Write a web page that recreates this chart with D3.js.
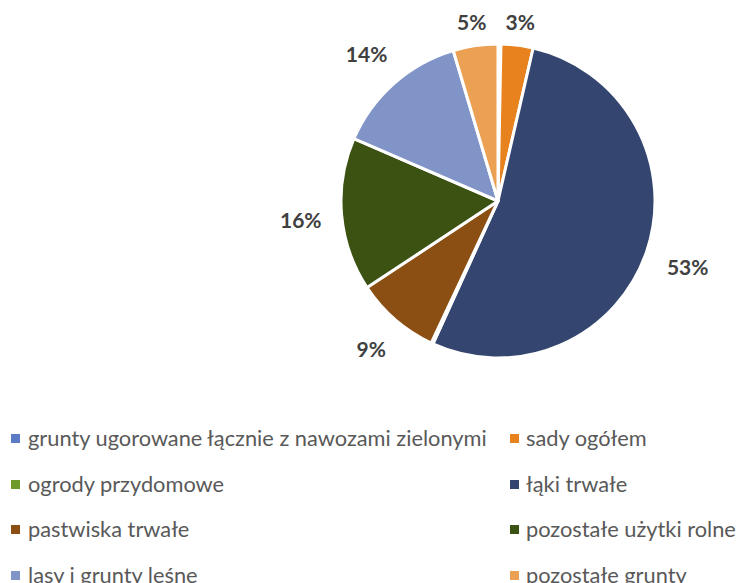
<!DOCTYPE html>
<html>
<head>
<meta charset="utf-8">
<script src="https://cdn.jsdelivr.net/npm/d3@7"></script>
<style>
  html, body { margin: 0; padding: 0; background: #fff; }
  svg { display: block; }
</style>
</head>
<body>
<svg id="chart" width="739" height="583"></svg>
<script>
// Land-use categories and their shares (percent of total area)
const categories = [
  "grunty ugorowane łącznie z nawozami zielonymi",
  "sady ogółem",
  "ogrody przydomowe",
  "łąki trwałe",
  "pastwiska trwałe",
  "pozostałe użytki rolne",
  "lasy i grunty leśne",
  "pozostałe grunty"
];
// slice order around the pie (clockwise from 12 o'clock)
const sliceOrder = [0, 1, 3, 2, 4, 5, 6, 7];
const shares = [0.3, 3.3, 0.2, 53.2, 8.7, 15.8, 13.9, 4.6];
const sliceColors = ["#5B7BC4", "#E8821E", "#6E9A2C", "#34466F", "#8C4F13", "#3B5213", "#8094C7", "#EBA053"];

const svg = d3.select("#chart");
const cx = 498, cy = 201, R = 157;

const data = categories.map((name, i) => ({ name, value: shares[i], color: sliceColors[i] }));
const ordered = sliceOrder.map(i => data[i]);
const total = d3.sum(ordered, d => d.value);

const pie = d3.pie().sort(null).value(d => d.value).startAngle(0).endAngle(2 * Math.PI);
const arc = d3.arc().innerRadius(0).outerRadius(R);

const g = svg.append("g").attr("transform", `translate(${cx},${cy})`);
const arcs = pie(ordered);

g.selectAll("path.slice")
  .data(arcs)
  .join("path")
  .attr("class", "slice")
  .attr("d", arc)
  .attr("fill", d => d.data.color)
  .attr("stroke", "#fff")
  .attr("stroke-width", 3)
  .attr("stroke-linejoin", "round");

// percentage labels placed just outside each slice
const fmt = v => Math.round(v / total * 100) + "%";
const labelFont = 21;
const labels = g.selectAll("text.pct")
  .data(arcs.filter(d => d.data.value / total >= 0.01))
  .join("text")
  .attr("class", "pct")
  .attr("text-anchor", "middle")
  .attr("dominant-baseline", "central")
  .attr("font-family", "Lato, 'Open Sans', sans-serif")
  .attr("font-weight", "bold")
  .attr("font-size", labelFont)
  .attr("fill", "#404040")
  .text(d => fmt(d.data.value));

labels.each(function(d) {
  const a = (d.startAngle + d.endAngle) / 2;
  const hw = this.getComputedTextLength() / 2;
  const s = Math.sin(a), c = -Math.cos(a);
  const rr = R + 19 + hw * Math.abs(s) + 3 * Math.abs(c) + 12 * Math.abs(s * c);
  d3.select(this).attr("x", rr * s).attr("y", rr * c + 1);
});

// legend: two columns, row-major
const legendRows = [438, 484, 529, 575];
const legendCols = [{ sq: 11, tx: 28 }, { sq: 510, tx: 526 }];
const legend = svg.append("g");
data.forEach((d, i) => {
  const row = Math.floor(i / 2), col = i % 2;
  const y = legendRows[row];
  legend.append("rect")
    .attr("x", legendCols[col].sq)
    .attr("y", y - 4)
    .attr("width", 9)
    .attr("height", 9)
    .attr("fill", d.color);
  legend.append("text")
    .attr("x", legendCols[col].tx)
    .attr("y", y - 1)
    .attr("dominant-baseline", "central")
    .attr("font-family", "Lato, 'Open Sans', sans-serif")
    .attr("font-size", 21.8)
    .attr("fill", "#595959")
    .text(d.name);
});
</script>
</body>
</html>
